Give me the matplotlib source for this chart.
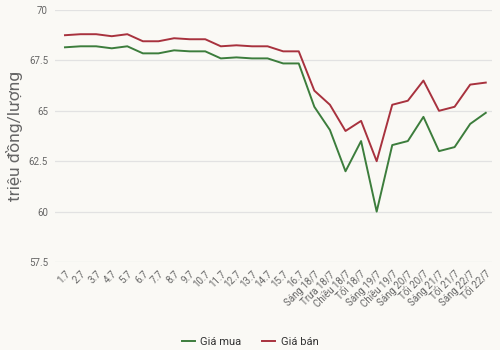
import matplotlib.pyplot as plt

# data
labels = ['1.7', '2.7', '3.7', '4.7', '5.7', '6.7', '7.7', '8.7', '9.7', '10.7',
          '11.7', '12.7', '13.7', '14.7', '15.7', '16.7',
          'Sáng 18/7', 'Trưa 18/7', 'Chiều 18/7', 'Tối 18/7',
          'Sáng 19/7', 'Chiều 19/7', 'Sáng 20/7', 'Tối 20/7',
          'Sáng 21/7', 'Tối 21/7', 'Sáng 22/7', 'Tối 22/7']
gia_mua = [68.15, 68.2, 68.2, 68.1, 68.2, 67.85, 67.85, 68.0, 67.95, 67.95,
           67.6, 67.65, 67.6, 67.6, 67.35, 67.35,
           65.2, 64.05, 62.0, 63.5, 60.0, 63.3, 63.5, 64.7,
           63.0, 63.2, 64.35, 64.9]
gia_ban = [68.75, 68.8, 68.8, 68.7, 68.8, 68.45, 68.45, 68.6, 68.55, 68.55,
           68.2, 68.25, 68.2, 68.2, 67.95, 67.95,
           66.0, 65.3, 64.0, 64.5, 62.5, 65.3, 65.5, 66.5,
           65.0, 65.2, 66.3, 66.4]
yticks = [57.5, 60, 62.5, 65, 67.5, 70]

bg = '#faf9f5'
plt.rcParams['font.family'] = ['Roboto', 'DejaVu Sans']

fig = plt.figure(figsize=(5, 3.5), dpi=100, facecolor=bg)
ax = fig.add_axes([0.11, 0.2514, 0.874, 0.72], facecolor=bg)

x = list(range(len(labels)))
ax.plot(x, gia_mua, color='#3c7d3c', lw=1.4, label='Giá mua')
ax.plot(x, gia_ban, color='#a8323e', lw=1.4, label='Giá bán')

ax.set_xlim(-0.64, 27.4)
ax.set_ylim(57.5, 70)
ax.set_yticks(yticks)
ax.set_yticklabels(['57.5', '60', '62.5', '65', '67.5', '70'])
ax.set_xticks(x)
ax.set_xticklabels(labels, rotation=45, ha='right', rotation_mode='anchor')
ax.tick_params(axis='both', length=0, labelsize=7, colors='#666666')
ax.tick_params(axis='x', pad=5)
ax.tick_params(axis='y', pad=5)
ax.grid(axis='y', color='#e2e2e2', lw=0.9)
ax.set_axisbelow(True)
for s in ax.spines.values():
    s.set_visible(False)

ax.set_ylabel('triệu đồng/lượng', fontsize=12.5, color='#666666', labelpad=4)

fig.legend(loc='lower center', bbox_to_anchor=(0.5, -0.02), ncol=2, frameon=False,
           fontsize=8, handlelength=1.2, columnspacing=1.8, handletextpad=0.5,
           labelcolor='#333333')

fig.savefig('out.png', dpi=100, facecolor=bg)
